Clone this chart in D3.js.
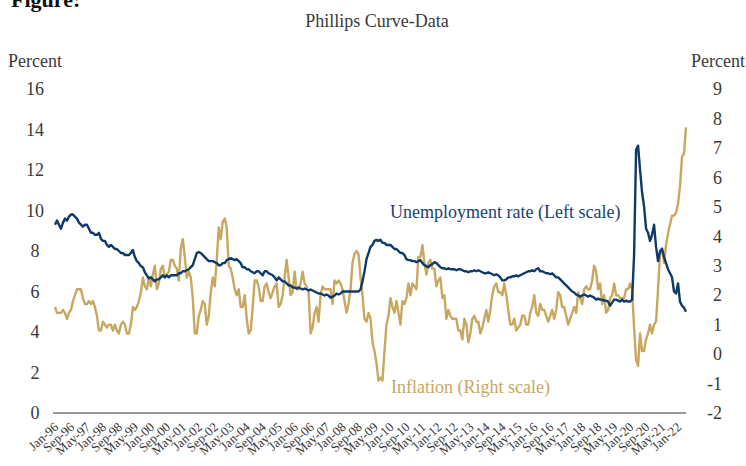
<!DOCTYPE html>
<html>
<head>
<meta charset="utf-8">
<script src="https://cdn.jsdelivr.net/npm/d3@7/dist/d3.min.js"></script>
<style>
  html, body { margin: 0; padding: 0; background: #fff; }
  svg { display: block; }
  text { font-family: "Liberation Serif", "DejaVu Serif", serif; }
</style>
</head>
<body>
<svg id="chart" width="746" height="466"></svg>
<script>
// ---- Data (monthly, Jan-1996 .. May-2022) ----
const startMonth = new Date(1996, 0, 1);
const endMonth = new Date(2022, 4, 1);
const categories = d3.timeMonth.range(startMonth, d3.timeMonth.offset(endMonth, 1));

const unemployment = [
  9.3, 9.5, 9.3, 9.1, 9.4, 9.6, 9.5, 9.7, 9.8, 9.8, 9.7, 9.6,
  9.4, 9.3, 9.2, 9.3, 9.3, 9.1, 8.9, 8.9, 8.8, 8.8, 8.9, 8.6,
  8.5, 8.5, 8.3, 8.2, 8.3, 8.2, 8.1, 8.1, 8.0, 7.9, 7.9, 7.8,
  7.8, 7.8, 7.9, 8.05, 7.7, 7.5, 7.4, 7.25, 7.2, 6.95, 6.8, 6.65,
  6.7, 6.6, 6.5, 6.6, 6.6, 6.7, 6.8, 6.7, 6.8, 6.7, 6.8, 6.8,
  6.8, 6.8, 6.9, 6.9, 7.0, 7.0, 7.05, 7.1, 7.2, 7.3, 7.6, 7.9,
  7.95, 7.9, 7.8, 7.7, 7.6, 7.5, 7.5, 7.5, 7.45, 7.4, 7.3, 7.3,
  7.4, 7.4, 7.55, 7.6, 7.65, 7.6, 7.55, 7.6, 7.5, 7.4, 7.2, 7.2,
  7.1, 7.1, 7.0, 6.95, 6.9, 7.0, 7.0, 6.9, 6.8, 7.0, 7.0, 6.9,
  6.85, 6.8, 6.7, 6.55, 6.7, 6.6, 6.5, 6.5, 6.4, 6.3, 6.3, 6.2,
  6.2, 6.15, 6.2, 6.15, 6.1, 6.15, 6.1, 6.05, 6.1, 6.05, 6.0, 5.95,
  5.9, 5.9, 5.85, 5.8, 5.85, 5.8, 5.7, 5.75, 5.8, 5.9, 5.85, 5.9,
  6.0, 6.0, 6.0, 6.0, 6.0, 6.0, 6.0, 6.0, 6.0, 6.1, 6.5, 7.0,
  7.6, 7.9, 8.2, 8.3, 8.5, 8.55, 8.5, 8.55, 8.4, 8.4, 8.3, 8.3,
  8.3, 8.2, 8.1, 8.1, 8.0, 7.9, 7.9, 7.8, 7.6, 7.55, 7.55, 7.5,
  7.5, 7.45, 7.5, 7.55, 7.4, 7.3, 7.25, 7.2, 7.3, 7.35, 7.45, 7.4,
  7.3, 7.2, 7.15, 7.15, 7.1, 7.15, 7.1, 7.1, 7.1, 7.05, 7.1, 7.1,
  7.05, 7.0, 7.0, 6.95, 7.0, 7.0, 7.05, 7.0, 7.05, 7.0, 6.95, 6.9,
  6.9, 6.95, 6.9, 6.85, 6.8, 6.85, 6.8, 6.7, 6.55, 6.55, 6.6, 6.7,
  6.7, 6.75, 6.75, 6.8, 6.75, 6.8, 6.85, 6.9, 6.95, 7.0, 7.0, 7.05,
  7.0, 7.1, 7.15, 7.0, 7.0, 6.95, 6.9, 6.9, 6.85, 6.9, 6.8, 6.7,
  6.7, 6.6, 6.5, 6.4, 6.3, 6.2, 6.1, 6.0, 5.95, 5.85, 5.8, 5.75,
  5.8, 5.85, 5.8, 5.75, 5.8, 5.75, 5.7, 5.6, 5.65, 5.6, 5.6, 5.55,
  5.55, 5.5, 5.3, 5.45, 5.6, 5.6, 5.55, 5.5, 5.6, 5.5, 5.55, 5.5,
  5.5, 5.6, 7.8, 13.0, 13.2, 12.0, 10.9, 10.2, 9.1, 8.9, 8.5, 8.8,
  9.3, 8.2, 7.5, 8.0, 8.1, 7.7, 7.4, 7.1, 6.9, 6.7, 6.0, 5.9,
  6.4, 5.5, 5.3, 5.2, 5.0
];

const inflation = [
  1.6, 1.4, 1.4, 1.4, 1.5, 1.4, 1.2, 1.4, 1.5, 1.8, 2.0, 2.2,
  2.2, 2.2, 1.9, 1.7, 1.7, 1.8, 1.7, 1.8, 1.6, 1.3, 0.8, 0.8,
  1.1, 1.0, 0.9, 1.0, 1.0, 0.8, 1.0, 0.8, 0.7, 1.0, 1.1, 1.0,
  0.7, 0.7, 1.0, 1.6, 1.5, 1.6, 1.8, 2.1, 2.6, 2.3, 2.2, 2.6,
  2.3, 2.7, 3.0, 2.2, 2.4, 2.9, 3.0, 2.6, 2.7, 2.8, 3.2, 3.2,
  3.0, 2.9, 2.5, 3.6, 3.9, 3.3, 2.6, 2.8, 2.6, 1.9, 0.7, 0.7,
  1.3, 1.5, 1.8, 1.7, 1.0, 1.3, 2.1, 2.6, 2.3, 3.2, 4.3, 3.9,
  4.5, 4.6, 4.3, 3.0, 2.9, 2.6, 2.2, 2.0, 2.2, 1.6, 1.6, 2.0,
  1.2, 0.7, 0.8, 1.6, 2.5, 2.5, 2.3, 1.8, 1.8, 2.3, 2.4, 2.1,
  1.9, 2.1, 2.3, 2.4, 1.6, 1.7, 2.0, 2.6, 3.2, 2.6, 2.0, 2.1,
  2.8, 2.2, 2.2, 2.4, 2.8, 2.4, 2.3, 2.1, 0.7, 0.9, 1.4, 1.6,
  1.1, 2.0, 2.3, 2.2, 2.2, 2.2, 2.2, 1.7, 2.5, 2.4, 2.5, 2.4,
  2.2, 1.8, 1.4, 1.7, 2.2, 3.1, 3.4, 3.5, 3.4, 2.6, 2.0, 1.2,
  1.1, 1.4, 1.2, 0.4, 0.1, -0.3, -0.9, -0.8, -0.9, 0.1, 1.0, 1.3,
  1.9, 1.6, 1.4, 1.8, 1.4, 1.0, 1.8, 1.7, 1.9, 2.4, 2.0, 2.4,
  2.3, 2.2, 3.3, 3.3, 3.7, 3.1, 2.7, 3.1, 3.2, 2.9, 2.9, 2.3,
  2.5, 2.6, 1.9, 2.0, 1.2, 1.5, 1.3, 1.2, 1.2, 1.2, 0.8, 0.8,
  0.5, 1.2, 1.0, 0.4, 0.7, 1.2, 1.3, 1.1, 1.1, 0.7, 0.9, 1.2,
  1.5, 1.1, 1.5, 2.0, 2.3, 2.4, 2.1, 2.1, 2.0, 2.4, 2.0, 1.5,
  1.0, 1.0, 1.2, 0.8, 0.9, 1.0, 1.3, 1.3, 1.0, 1.0, 1.4, 1.6,
  2.0, 1.4, 1.3, 1.7, 1.5, 1.5, 1.3, 1.1, 1.3, 1.5, 1.2, 1.5,
  2.1, 2.0, 1.6, 1.6, 1.3, 1.0, 1.2, 1.4, 1.6, 1.4, 2.1, 1.9,
  1.7, 2.2, 2.3, 2.2, 2.2, 2.5, 3.0, 2.8, 2.2, 2.4, 1.7, 2.0,
  1.4, 1.5, 1.9, 2.0, 2.4, 2.0, 2.0, 1.9, 1.9, 1.9, 2.2, 2.2,
  2.4, 2.2, 0.9, -0.2, -0.4, 0.7, 0.1, 0.1, 0.5, 0.7, 1.0, 0.7,
  1.0, 1.1, 2.2, 3.4, 3.6, 3.1, 3.7, 4.1, 4.4, 4.7, 4.7, 4.8,
  5.1, 5.7, 6.7, 6.8, 7.7
];

const xTickLabels = [
  "Jan-96","Sep-96","May-97","Jan-98","Sep-98","May-99","Jan-00","Sep-00",
  "May-01","Jan-02","Sep-02","May-03","Jan-04","Sep-04","May-05","Jan-06",
  "Sep-06","May-07","Jan-08","Sep-08","May-09","Jan-10","Sep-10","May-11",
  "Jan-12","Sep-12","May-13","Jan-14","Sep-14","May-15","Jan-16","Sep-16",
  "May-17","Jan-18","Sep-18","May-19","Jan-20","Sep-20","May-21","Jan-22"
];
const leftTicks = [0, 2, 4, 6, 8, 10, 12, 14, 16];
const rightTicks = [-2, -1, 0, 1, 2, 3, 4, 5, 6, 7, 8, 9];
const labelInterval = 8;

// ---- Drawing ----
const svg = d3.select("#chart");
const navy = "#0f3a67";
const gold = "#c8a860";
const textCol = "#3a3a3a";

const x = d3.scaleLinear().domain([0, categories.length - 1]).range([55, 686]);
const yL = d3.scaleLinear().domain([0, 16]).range([413, 89]);
const yR = d3.scaleLinear().domain([-2, 9]).range([413, 89]);

// Figure caption (cut at top, as in the reference)
svg.append("text").attr("x", 11).attr("y", 7)
  .attr("font-size", 22).attr("font-weight", "bold").attr("fill", "#111")
  .text("Figure:");

// Title
svg.append("text").attr("x", 377).attr("y", 27).attr("text-anchor", "middle")
  .attr("font-size", 18).attr("fill", textCol).text("Phillips Curve-Data");

// Axis titles
svg.append("text").attr("x", 8).attr("y", 67).attr("font-size", 18)
  .attr("fill", textCol).text("Percent");
svg.append("text").attr("x", 745).attr("y", 67).attr("font-size", 18)
  .attr("text-anchor", "end").attr("fill", textCol).text("Percent");

// Left axis
const gL = svg.append("g").attr("transform", "translate(35,0)")
  .call(d3.axisLeft(yL).tickValues(leftTicks).tickSize(0).tickPadding(0)
    .tickFormat(d => String(d)));
gL.select(".domain").remove();
gL.selectAll("text").attr("text-anchor", "middle").attr("font-size", 18)
  .attr("fill", textCol).attr("font-family", "Liberation Serif, serif");

// Right axis
const gR = svg.append("g").attr("transform", "translate(722,0)")
  .call(d3.axisRight(yR).tickValues(rightTicks).tickSize(0).tickPadding(0)
    .tickFormat(d => String(d)));
gR.select(".domain").remove();
gR.selectAll("text").attr("text-anchor", "end").attr("font-size", 18)
  .attr("fill", textCol).attr("font-family", "Liberation Serif, serif");

// Baseline
svg.append("line").attr("x1", 53).attr("x2", 686)
  .attr("y1", yL(0)).attr("y2", yL(0))
  .attr("stroke", "#7a7a7a").attr("stroke-width", 1.5);

// Bottom axis (rotated labels)
const tickIdx = d3.range(0, categories.length, labelInterval).slice(0, xTickLabels.length);
const gX = svg.append("g").attr("transform", "translate(0,421)")
  .call(d3.axisBottom(x).tickValues(tickIdx).tickSize(0)
    .tickFormat((d, i) => xTickLabels[i]));
gX.select(".domain").remove();
gX.selectAll("text")
  .attr("font-size", 13).attr("fill", textCol)
  .attr("font-family", "Liberation Serif, serif")
  .attr("text-anchor", "end")
  .attr("dy", "0.6em").attr("y", 0).attr("x", -2)
  .attr("transform", "rotate(-42)");

// Lines
const lineL = d3.line().x((d, i) => x(i)).y(d => yL(d));
const lineR = d3.line().x((d, i) => x(i)).y(d => yR(d));

svg.append("path").datum(inflation).attr("d", lineR)
  .attr("fill", "none").attr("stroke", gold).attr("stroke-width", 2.4)
  .attr("stroke-linejoin", "round");
svg.append("path").datum(unemployment).attr("d", lineL)
  .attr("fill", "none").attr("stroke", navy).attr("stroke-width", 2.4)
  .attr("stroke-linejoin", "round");

// Series labels
svg.append("text").attr("x", 390).attr("y", 218).attr("font-size", 18)
  .attr("fill", "#1a3f6d").text("Unemployment rate (Left scale)");
svg.append("text").attr("x", 391).attr("y", 393).attr("font-size", 18)
  .attr("fill", "#c6a864").text("Inflation (Right scale)");
</script>
</body>
</html>
